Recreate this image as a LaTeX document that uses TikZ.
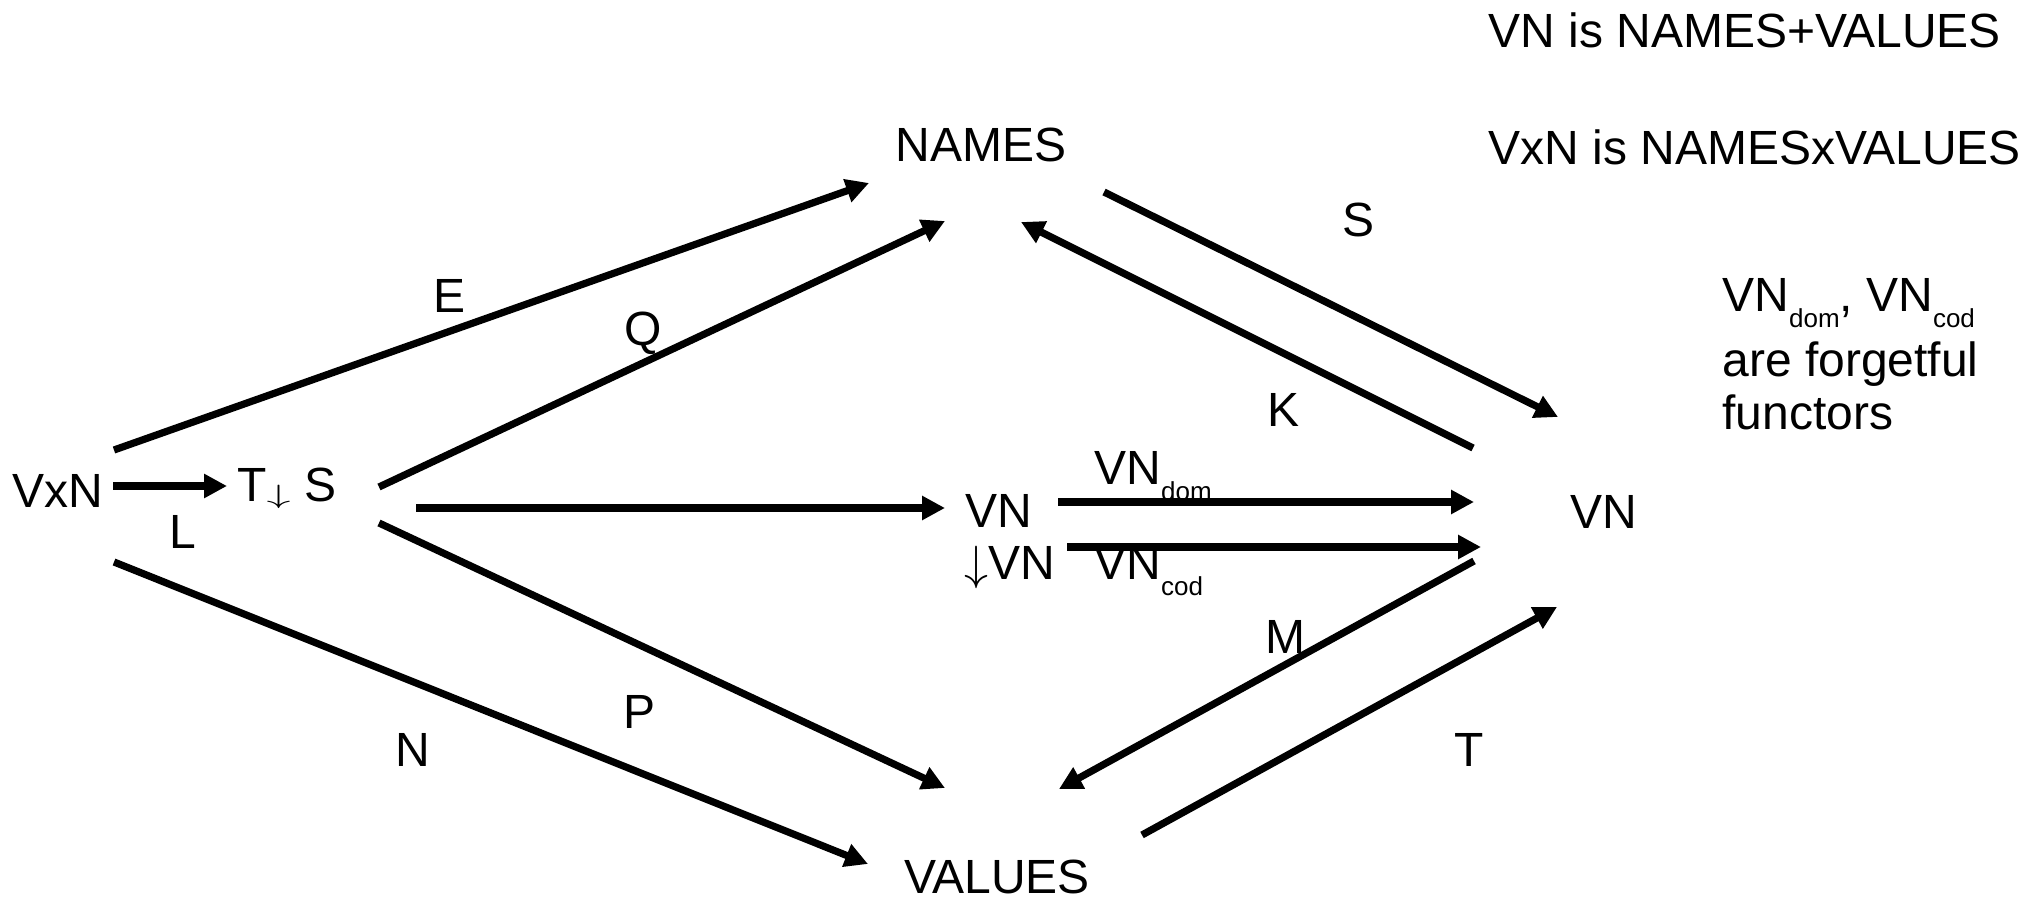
\documentclass[tikz,border=0pt]{standalone}
\usepackage{fix-cm}
\usepackage{fontspec}
\usepackage{graphicx}
\setmainfont{Liberation Sans}
\usetikzlibrary{arrows.meta}
% subscript set low and small, as in VN_dom
\newcommand{\lowsub}[1]{\raisebox{-8pt}{\fontsize{13}{13}\selectfont #1}}
% thin tall down arrow, and a squat one for "T↓ S"
\newcommand{\tallDown}{$\downarrow$}
\newcommand{\shortDown}{\raisebox{-1pt}{\scalebox{1}[0.55]{$\downarrow$}}}
\begin{document}
\begin{tikzpicture}[x=0.5pt,y=-0.5pt,
  txt/.style={inner sep=0pt, font=\fontsize{24}{28}\selectfont},
  obj/.style={txt, anchor=base west},
  lbl/.style={txt, anchor=center},
  arr/.style={line width=3.6pt, -{Triangle[length=11.5pt,width=11.5pt]}},
]
\useasboundingbox (0,0) rectangle (2023,897);

% objects
\node[obj] (vxn) at (12,508) {VxN};
\node[obj] (tds) at (237,502) {T\shortDown{} S};
\node[obj] (vnm) at (965,528) {VN};
\node[obj] (dvn) at (964,580) {\tallDown VN};
\node[obj] (vnr) at (1570,529) {VN};
\node[obj, anchor=base] (names) at (981,162) {NAMES};
\node[obj, anchor=base] (values) at (997,893) {VALUES};

% notes
\node[obj] (top1) at (1488,48) {VN is NAMES+VALUES};
\node[obj] (top2) at (1488,165) {VxN is NAMESxVALUES};
\node[obj] (note1) at (1722,312) {VN\lowsub{dom}, VN\lowsub{cod}};
\node[obj] (note2) at (1722,377) {are forgetful};
\node[obj] (note3) at (1722,430) {functors};

% connector ends
\coordinate (vxn-L) at (113,486);   \coordinate (tds-L) at (227,486);
\coordinate (vxn-E) at (114,450);   \coordinate (names-E) at (869,183);
\coordinate (tds-Q) at (379,487);   \coordinate (names-Q) at (945,221);
\coordinate (tds-H) at (416,508);   \coordinate (vnm-H) at (945,508);
\coordinate (vxn-N) at (114,562);   \coordinate (values-N) at (868,864);
\coordinate (tds-P) at (379,523);   \coordinate (values-P) at (945,788);
\coordinate (names-S) at (1104,192); \coordinate (vnr-S) at (1558,417);
\coordinate (vnr-K) at (1473,448);  \coordinate (names-K) at (1021,222);
\coordinate (vnm-D) at (1058,502);  \coordinate (vnr-D) at (1474,502);
\coordinate (vnm-C) at (1067,547);  \coordinate (vnr-C) at (1481,547);
\coordinate (vnr-M) at (1474,561);  \coordinate (values-M) at (1059,789);
\coordinate (values-T) at (1142,835); \coordinate (vnr-T) at (1557,607);

% arrows
\draw[arr] (vxn-L) -- (tds-L);
\draw[arr] (vxn-E) -- (names-E);
\draw[arr] (tds-Q) -- (names-Q);
\draw[arr] (tds-H) -- (vnm-H);
\draw[arr] (vxn-N) -- (values-N);
\draw[arr] (tds-P) -- (values-P);
\draw[arr] (names-S) -- (vnr-S);
\draw[arr] (vnr-K) -- (names-K);
\draw[arr] (vnm-D) -- (vnr-D);
\draw[arr] (vnm-C) -- (vnr-C);
\draw[arr] (vnr-M) -- (values-M);
\draw[arr] (values-T) -- (vnr-T);

% arrow labels
\node[lbl] (lL) at (183,532) {L};
\node[lbl] (lE) at (450,296) {E};
\node[lbl] (lQ) at (643,333) {Q};
\node[lbl] (lN) at (413,750) {N};
\node[lbl] (lP) at (640,712) {P};
\node[lbl] (lS) at (1358,220) {S};
\node[lbl] (lK) at (1283,410) {K};
\node[lbl] (lM) at (1285,637) {M};
\node[lbl] (lT) at (1469,750) {T};
\node[obj] (ldom) at (1094,485) {VN\lowsub{dom}};
\node[obj] (lcod) at (1094,580) {VN\lowsub{cod}};
\end{tikzpicture}
\end{document}
